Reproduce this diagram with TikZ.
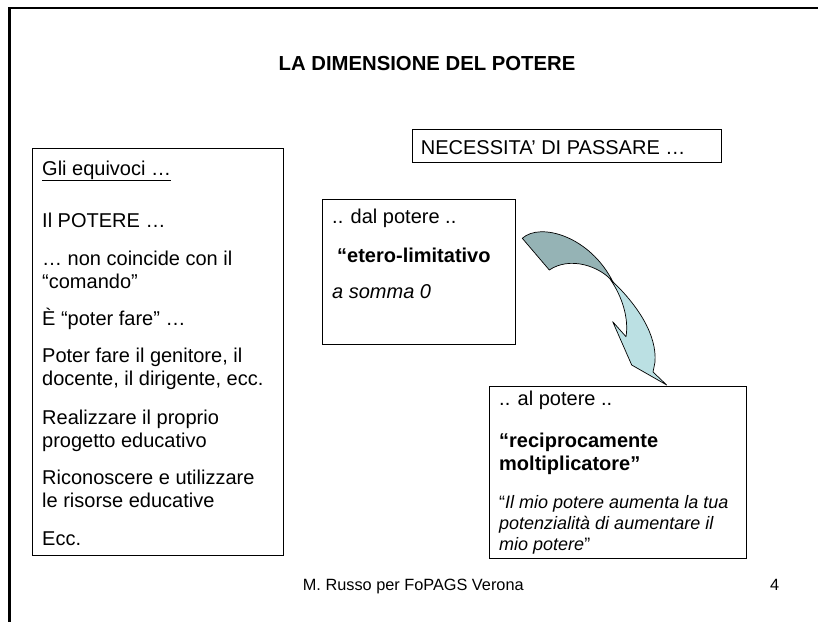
\documentclass[tikz,border=0pt]{standalone}
\usepackage{fontspec}
\setmainfont{Liberation Sans}
\definecolor{arrowdark}{HTML}{95B3B5}
\definecolor{arrowlight}{HTML}{BBE0E3}
\begin{document}
\begin{tikzpicture}[x=1pt,y=-1pt,
  txt/.style={anchor=base west, inner sep=0pt, font=\fontsize{20}{23}\selectfont},
  smalltxt/.style={anchor=base west, inner sep=0pt, font=\fontsize{18}{21}\selectfont},
  foot/.style={anchor=base west, inner sep=0pt, font=\fontsize{16.3}{19}\selectfont},
  boxx/.style={draw=black, line width=0.9pt, anchor=north west, inner sep=0pt},
  frame/.style={line width=2.7pt, line cap=rect},
  ribbon/.style={draw=black, line width=0.7pt, line join=round}]
\useasboundingbox (0,0) rectangle (818,621);
% slide frame
\coordinate (fbl) at (9.5,640);
\coordinate (ftl) at (9.5,8);
\coordinate (ftr) at (840,8);
\draw[frame] (fbl) -- (ftl) -- (ftr);
% title
\node[anchor=base, inner sep=0pt, font=\bfseries\fontsize{20.3}{24}\selectfont] (title) at (427,70) {LA DIMENSIONE DEL POTERE};
% boxes
\node[boxx, minimum width=251pt, minimum height=407pt] (leftbox) at (32,148) {};
\node[boxx, minimum width=309pt, minimum height=33pt] (necbox) at (412,129) {};
\node[boxx, minimum width=193pt, minimum height=145pt] (dalbox) at (322,199) {};
\node[boxx, minimum width=257pt, minimum height=172pt] (albox) at (489,386) {};
% left box texts
\node[txt] (l1) at (42,175) {\underline{Gli equivoci …}};
\node[txt] (l2) at (42,227) {Il POTERE …};
\node[txt] (l3) at (42,265) {… non coincide con il};
\node[txt] (l4) at (42,288.5) {“comando”};
\node[txt] (l5) at (42,325) {È “poter fare” …};
\node[txt] (l6) at (42,362) {Poter fare il genitore, il};
\node[txt] (l7) at (42,385) {docente, il dirigente, ecc.};
\node[txt] (l8) at (42,424) {Realizzare il proprio};
\node[txt] (l9) at (42,447) {progetto educativo};
\node[txt] (l10) at (42,484) {Riconoscere e utilizzare};
\node[txt] (l11) at (42,507) {le risorse educative};
\node[txt] (l12) at (42,545) {Ecc.};
% necessita
\node[txt] (nec) at (420.7,154) {NECESSITA’ DI PASSARE …};
% dal box
\node[txt] (d1) at (332,223.5) {.. dal potere ..};
\node[txt] (d2) at (337,262) {\bfseries “etero-limitativo};
\node[txt] (d3) at (332,298.5) {\itshape a somma 0};
% al box
\node[txt] (a1) at (499,405.5) {.. al potere ..};
\node[txt] (a2) at (499,447) {\bfseries “reciprocamente};
\node[txt] (a3) at (499,470) {\bfseries moltiplicatore”};
\node[smalltxt] (a4) at (499,508) {“\textit{Il mio potere aumenta la tua}};
\node[smalltxt] (a5) at (499,529) {\textit{potenzialità di aumentare il}};
\node[smalltxt] (a6) at (499,550) {\textit{mio potere}”};
% curved ribbon arrow
\coordinate (cross) at (610,279);
\coordinate (tailtop) at (522.3,238.3);
\coordinate (tailbot) at (549.3,270);
\coordinate (tip) at (666.7,385);
\fill[arrowlight, ribbon] (cross) .. controls (638,305) and (657,335) .. (655,362)
  -- (653,372) -- (tip) -- (631.7,365) -- (612.7,321.7) -- (626,336.7)
  .. controls (629,318) and (622,296) .. (cross) -- cycle;
\fill[arrowdark, ribbon] (tailtop) .. controls (540,222) and (590,236) .. (613,282)
  .. controls (600,266) and (570,256) .. (tailbot) -- cycle;
% footer
\node[foot] (footer) at (302.7,590) {M. Russo per FoPAGS Verona};
\node[foot] (pagenum) at (770,590) {4};
\end{tikzpicture}
\end{document}
